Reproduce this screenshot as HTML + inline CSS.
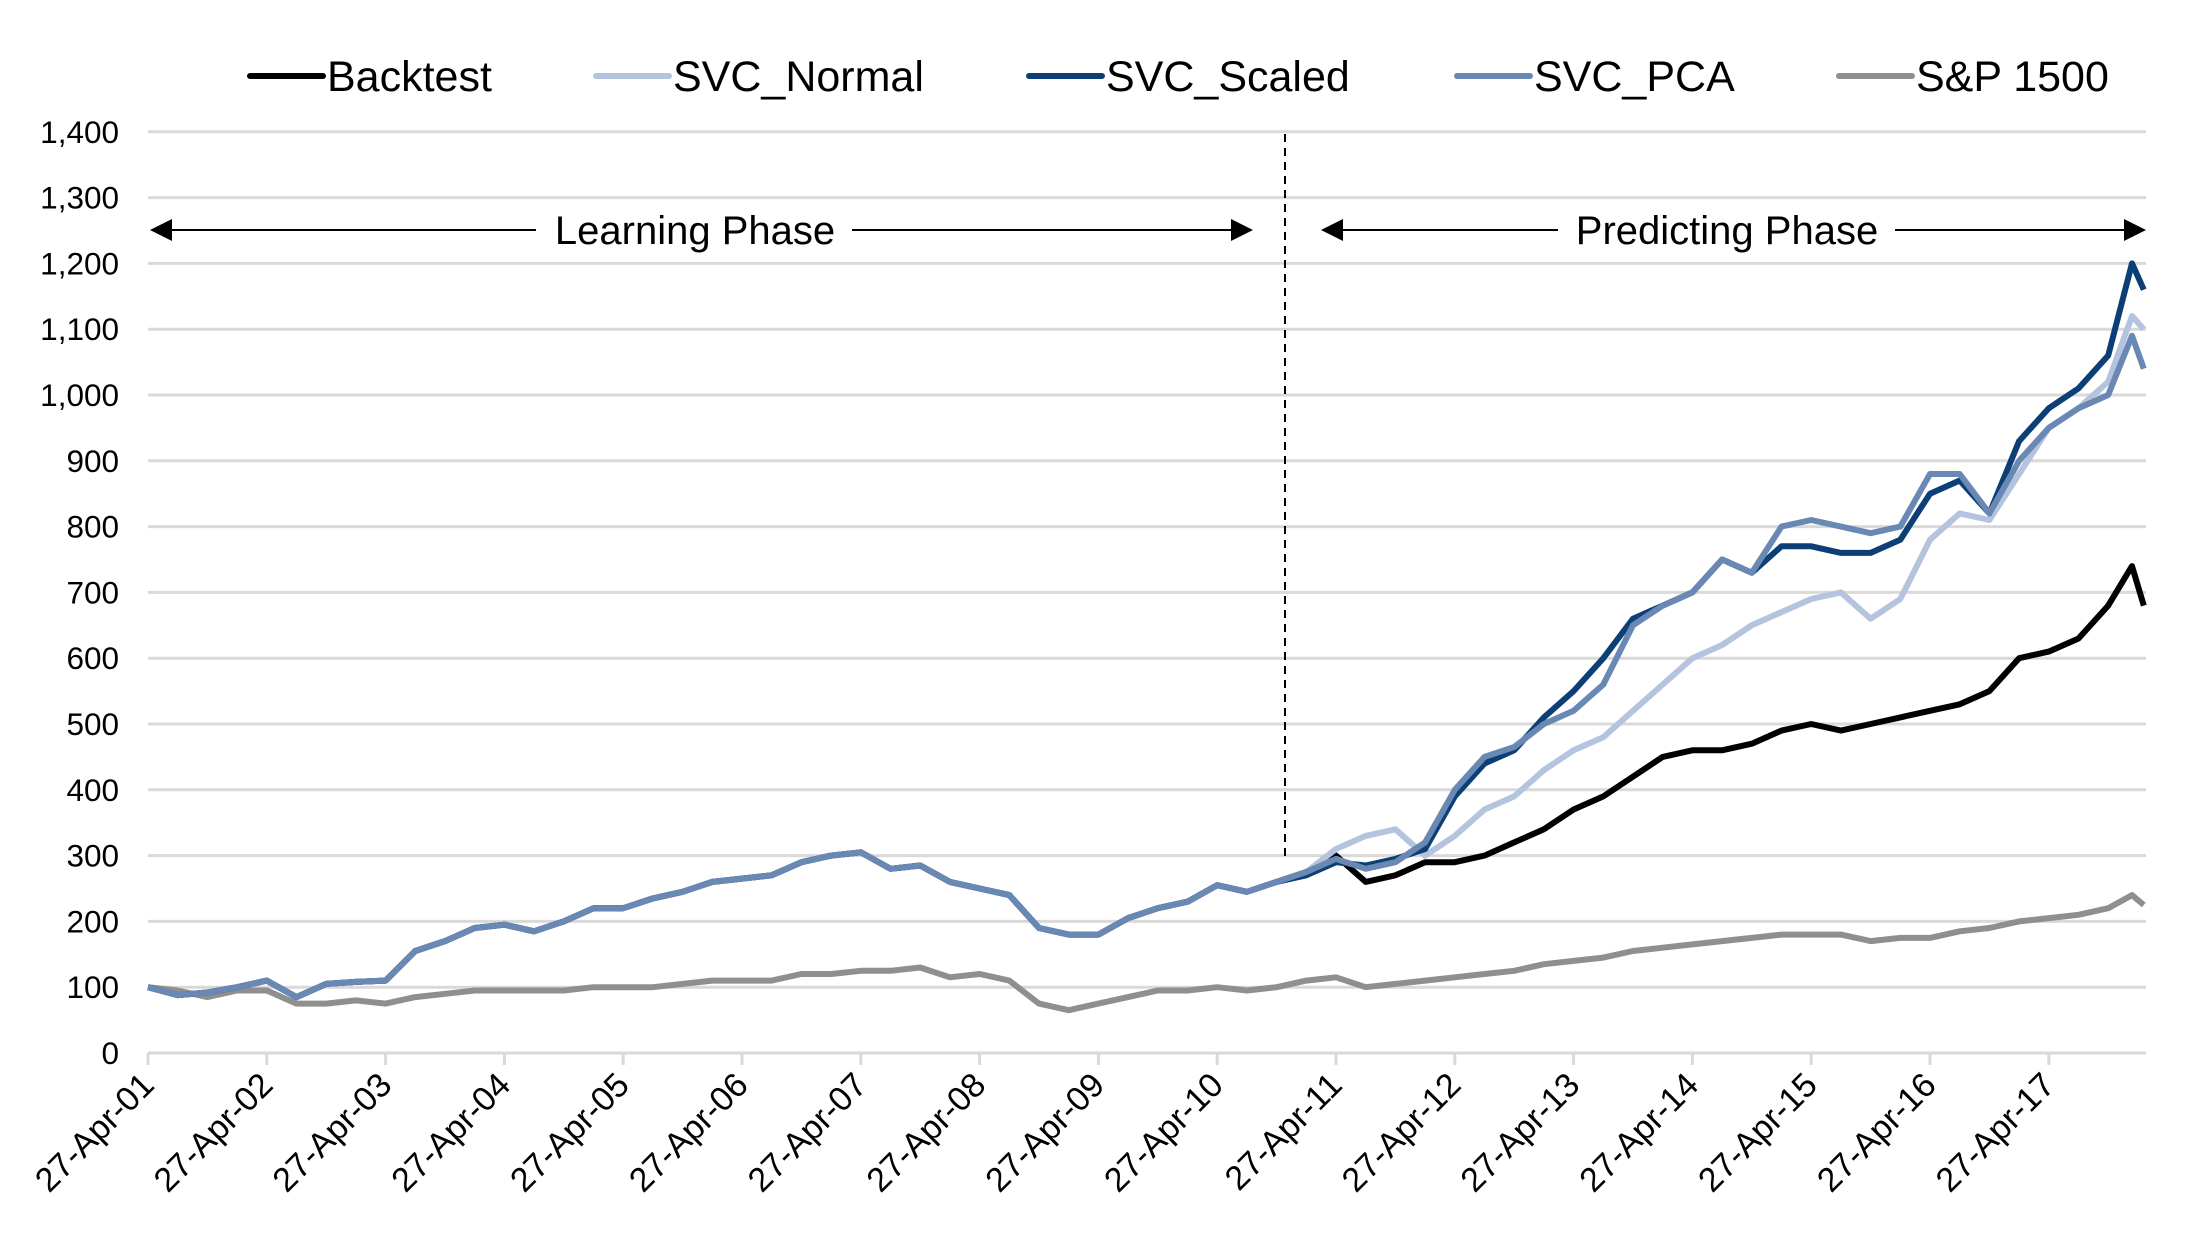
<!DOCTYPE html>
<html><head><meta charset="utf-8"><style>
html,body{margin:0;padding:0;background:#fff;}
svg{display:block;font-family:"Liberation Sans",Arial,sans-serif;}
</style></head><body>
<svg id="chart" width="2194" height="1244" viewBox="0 0 2194 1244">
<g id="grid"></g>
<g id="yticks"></g>
<g id="xticks"></g>
<g id="series"></g>
<line x1="1285" y1="134" x2="1285" y2="858" stroke="#000" stroke-width="2" stroke-dasharray="8,6"/>
<g>
<line x1="165" y1="230" x2="536" y2="230" stroke="#000" stroke-width="2"/>
<polygon points="150,230 172,219 172,241" fill="#000"/>
<line x1="852" y1="230" x2="1236" y2="230" stroke="#000" stroke-width="2"/>
<polygon points="1253,230 1231,219 1231,241" fill="#000"/>
<text x="695" y="244" font-size="40" text-anchor="middle">Learning Phase</text>
</g>
<g>
<line x1="1338" y1="230" x2="1558" y2="230" stroke="#000" stroke-width="2"/>
<polygon points="1321,230 1343,219 1343,241" fill="#000"/>
<line x1="1895" y1="230" x2="2128" y2="230" stroke="#000" stroke-width="2"/>
<polygon points="2146,230 2124,219 2124,241" fill="#000"/>
<text x="1727" y="244" font-size="40" text-anchor="middle">Predicting Phase</text>
</g>
<g id="legend"></g>
</svg>
<script>
const years = [0,0.25,0.5,0.75,1,1.25,1.5,1.75,2,2.25,2.5,2.75,3,3.25,3.5,3.75,4,4.25,4.5,4.75,5,5.25,5.5,5.75,6,6.25,6.5,6.75,7,7.25,7.5,7.75,8,8.25,8.5,8.75,9,9.25,9.5,9.75,10,10.25,10.5,10.75,11,11.25,11.5,11.75,12,12.25,12.5,12.75,13,13.25,13.5,13.75,14,14.25,14.5,14.75,15,15.25,15.5,15.75,16,16.25,16.5,16.7,16.8];
const learning = [100,88,92,100,110,85,105,108,110,155,170,190,195,185,200,220,220,235,245,260,265,270,290,300,305,280,285,260,250,240,190,180,180,205,220,230,255,245,260];
const backtestPost = [275,300,260,270,290,290,300,320,340,370,390,420,450,460,460,470,490,500,490,500,510,520,530,550,600,610,630,680,740,680];
const normalPost = [275,310,330,340,300,330,370,390,430,460,480,520,560,600,620,650,670,690,700,660,690,780,820,810,880,950,980,1020,1120,1100];
const scaledPost = [270,290,285,295,310,390,440,460,510,550,600,660,680,700,750,730,770,770,760,760,780,850,870,820,930,980,1010,1060,1200,1160];
const pcaPost = [275,295,280,290,320,400,450,465,500,520,560,650,680,700,750,730,800,810,800,790,800,880,880,820,900,950,980,1000,1090,1040];
const sp1500 = [100,95,85,95,95,75,75,80,75,85,90,95,95,95,95,100,100,100,105,110,110,110,120,120,125,125,130,115,120,110,75,65,75,85,95,95,100,95,100,110,115,100,105,110,115,120,125,135,140,145,155,160,165,170,175,180,180,180,170,175,175,185,190,200,205,210,220,240,225];
const yTicks = [0,100,200,300,400,500,600,700,800,900,1000,1100,1200,1300,1400];
const xTickLabels = ["27-Apr-01","27-Apr-02","27-Apr-03","27-Apr-04","27-Apr-05","27-Apr-06","27-Apr-07","27-Apr-08","27-Apr-09","27-Apr-10","27-Apr-11","27-Apr-12","27-Apr-13","27-Apr-14","27-Apr-15","27-Apr-16","27-Apr-17"];
const seriesNames = ["S&P 1500","Backtest","SVC_Normal","SVC_Scaled","SVC_PCA"];

const NS="http://www.w3.org/2000/svg";
const X0=148, X1=2146, PX_PER_YEAR=118.8, Y0=1053, PX_PER_UNIT=0.658;
const xs = t => X0 + t*PX_PER_YEAR;
const ys = v => Y0 - v*PX_PER_UNIT;
function mk(tag, attrs, parent){const e=document.createElementNS(NS,tag);for(const k in attrs)e.setAttribute(k,attrs[k]);parent.appendChild(e);return e;}

const grid=document.getElementById('grid');
yTicks.forEach(v=>{
  const l=mk('line',{x1:X0,x2:X1,y1:ys(v),y2:ys(v),stroke:'#d9d9d9','stroke-width':3},grid);
  
  
  const t=mk('text',{x:119,y:ys(v)+11,'font-size':31.5,'text-anchor':'end',fill:'#000'},document.getElementById('yticks'));
  t.textContent=v.toLocaleString('en-US');
  
  
});
const xg=document.getElementById('xticks');
xTickLabels.forEach((lab,i)=>{
  const x=xs(i);
  const tk=mk('line',{x1:x,x2:x,y1:Y0,y2:Y0+12,stroke:'#d9d9d9','stroke-width':3},xg);
  
  
  const t=mk('text',{x:x+8,y:Y0+34,'font-size':34,'text-anchor':'end',transform:`rotate(-45 ${x+8} ${Y0+34})`},xg);
  t.textContent=lab;
  
  
});

const colors={"S&P 1500":"#8f8f8f","Backtest":"#000000","SVC_Normal":"#b4c3de","SVC_Scaled":"#0b3f75","SVC_PCA":"#6a88b4"};
const data={"S&P 1500":sp1500,"Backtest":learning.concat(backtestPost),"SVC_Normal":learning.concat(normalPost),"SVC_Scaled":learning.concat(scaledPost),"SVC_PCA":learning.concat(pcaPost)};
const sg=document.getElementById('series');
seriesNames.forEach(n=>{
  const vals=data[n];
  const d=vals.map((v,i)=>(i?'L':'M')+xs(years[i]).toFixed(1)+','+ys(v).toFixed(1)).join(' ');
  const p=mk('path',{d:d,fill:'none',stroke:colors[n],'stroke-width':6,'stroke-linejoin':'round'},sg);
  
  
});

const legendOrder=["Backtest","SVC_Normal","SVC_Scaled","SVC_PCA","S&P 1500"];
const legendX=[250,596,1029,1457,1839];
const lg=document.getElementById('legend');
legendOrder.forEach((n,i)=>{
  const g=mk('g',{},lg);
  
  
  mk('line',{x1:legendX[i],x2:legendX[i]+73,y1:76,y2:76,stroke:colors[n],'stroke-width':6,'stroke-linecap':'round'},g);
  const t=mk('text',{x:legendX[i]+77,y:91,'font-size':43},g);
  t.textContent=n;
});
</script>
</body></html>
